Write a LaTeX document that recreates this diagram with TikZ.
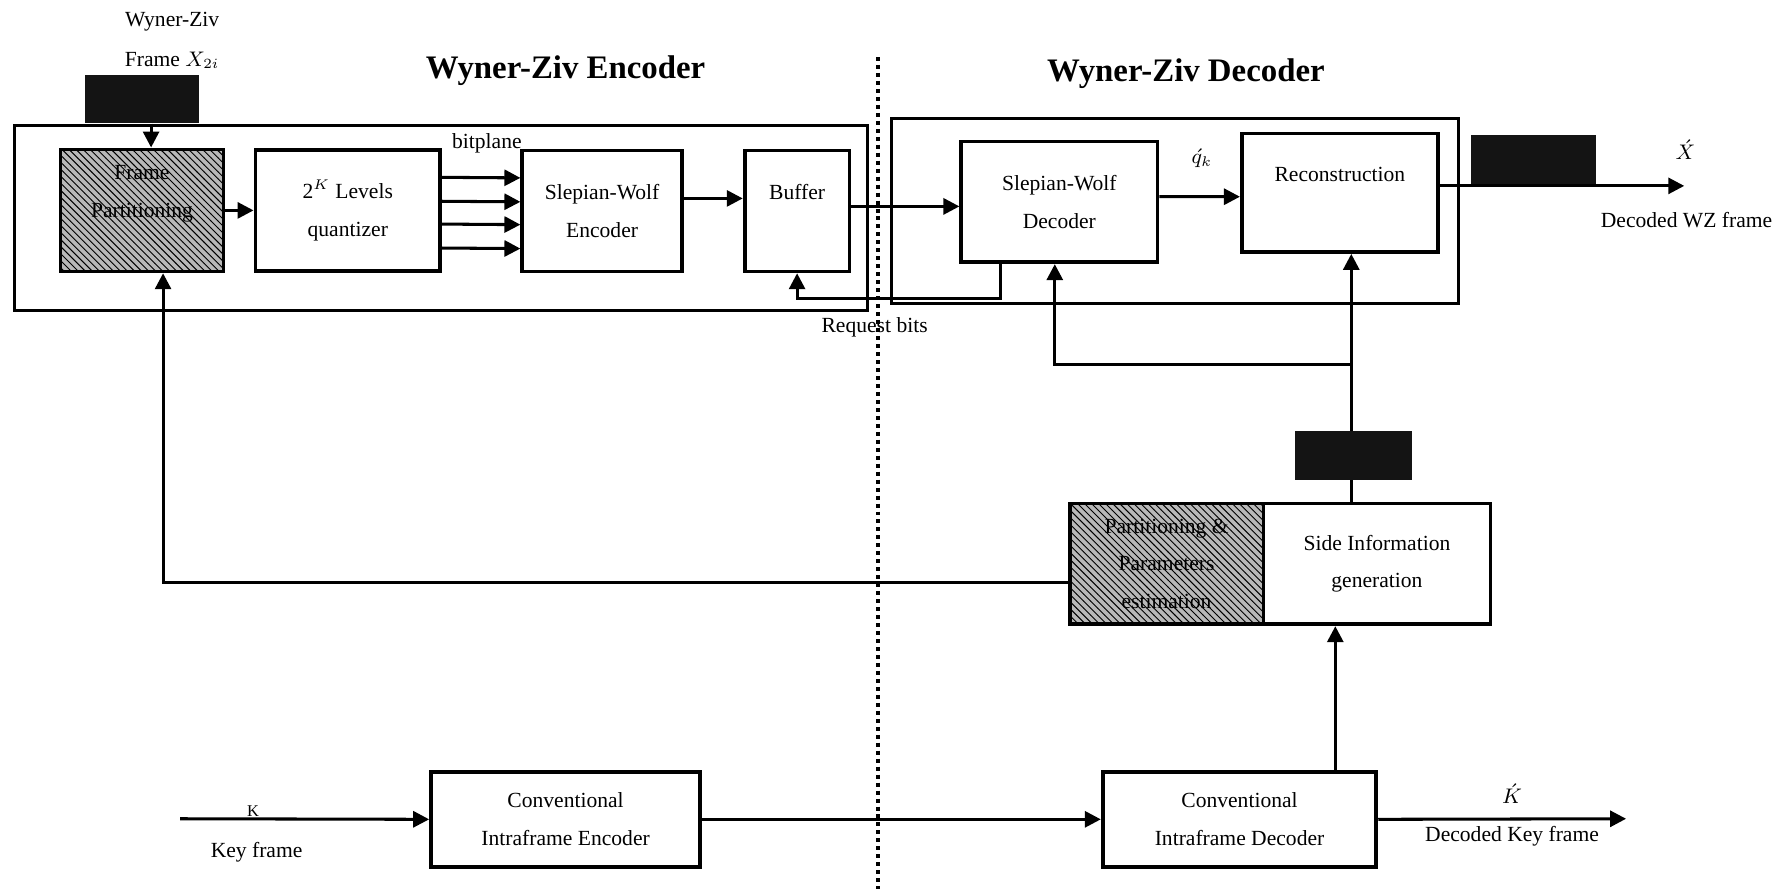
\documentclass[tikz,border=0pt]{standalone}
\usepackage{fontspec}
\setmainfont{Liberation Serif}
\usetikzlibrary{arrows.meta,patterns}
\definecolor{Ink}{HTML}{000000}
\definecolor{HatchGrey}{HTML}{B8B8B8}
\definecolor{Blot}{HTML}{141414}
\newcommand{\pxu}{0.01709cm}
\tikzset{block/.style={rectangle,draw=Ink,line width=1.6pt,fill=white,align=center,text=Ink,inner sep=2pt},hatchblock/.style={rectangle,draw=Ink,line width=1.6pt,align=center,text=Ink,inner sep=2pt,preaction={fill=HatchGrey},pattern=north west lines,pattern color=Ink},blot/.style={rectangle,fill=Blot,inner sep=0pt},frame/.style={draw=Ink,line width=1.4pt},flow/.style={draw=Ink,line width=1.3pt,-{Triangle[length=6.8pt,width=6.8pt]}},note/.style={text=Ink,inner sep=1pt},heading/.style={text=Ink,font=\bfseries\fontsize{14}{16}\selectfont}}

\begin{document}
\begin{tikzpicture}[x=\pxu,y=-\pxu,font=\fontsize{9.2}{16}\selectfont]
\useasboundingbox (0,0) rectangle (1568,780);
% encoder and decoder frames, split line
\draw[frame] (13,110) rectangle (761,272);\draw[frame] (782,104) rectangle (1279,266);
\draw[Ink,line width=1.7pt,dash pattern=on 1.7pt off 1.7pt] (770,50) -- (770,780);
\node[heading] (enctitle) at (496,62) {Wyner-Ziv Encoder};\node[heading] (dectitle) at (1040,65) {Wyner-Ziv Decoder};
% input frame
\node[note] (wzname) at (151,19) {Wyner-Ziv};\node[note] (wzframe) at (151,53) {Frame $X_{2i}$};
\node[blot,minimum width=100*\pxu,minimum height=42*\pxu] (wzin) at (124.5,87) {};
% blocks
\node[hatchblock,minimum width=143*\pxu,minimum height=107*\pxu] (fp) at (124.5,184.5) {Frame\\Partitioning\\\mbox{}};
\node[block,minimum width=162*\pxu,minimum height=106*\pxu] (quant) at (305,184.5) {2$^{K}$ Levels\\quantizer};
\node[block,minimum width=140*\pxu,minimum height=106*\pxu] (swenc) at (528,185) {Slepian-Wolf\\Encoder};
\node[block,minimum width=92*\pxu,minimum height=106*\pxu] (buffer) at (699,185) {Buffer\\\mbox{}};
\node[block,minimum width=172*\pxu,minimum height=106*\pxu] (swdec) at (929,177) {Slepian-Wolf\\Decoder};
\node[block,minimum width=172*\pxu,minimum height=104*\pxu] (recon) at (1175,169) {Reconstruction\\\mbox{}};
\node[hatchblock,minimum width=170*\pxu,minimum height=106*\pxu] (pe) at (1023,494.5) {Partitioning \&\\Parameters\\estimation};
\node[block,minimum width=199*\pxu,minimum height=106*\pxu] (sig) at (1207.5,494.5) {Side Information\\generation};
\node[block,minimum width=236*\pxu,minimum height=83*\pxu] (ienc) at (496,718.5) {Conventional\\Intraframe Encoder};
\node[block,minimum width=240*\pxu,minimum height=83*\pxu] (idec) at (1087,718.5) {Conventional\\Intraframe Decoder};
\coordinate (fork) at (1185,320);\coordinate (keyin) at (158,718);\coordinate (keyout) at (1426,718);\coordinate (wzout) at (1477,163);
% encoder flow
\draw[flow] ([xshift=8*\pxu]wzin.south) -- ([xshift=8*\pxu]fp.north);
\draw[flow] (fp.east) -- (quant.west);
\foreach \dy in {29,8,-12,-33}{\draw[flow] ([yshift=\dy*\pxu]quant.east) -- ([yshift=\dy*\pxu]swenc.west);}
\node[note] (bitlbl) at (427,126) {bitplane};
\draw[flow] ([yshift=11*\pxu]swenc.east) -- ([yshift=11*\pxu]buffer.west);
\draw[flow] ([yshift=4*\pxu]buffer.east) -- ([yshift=-4*\pxu]swdec.west);
\draw[flow] ([xshift=-52*\pxu]swdec.south) -- ++(0,30) -| (buffer.south);
\node[note] (reqlbl) at (767,287) {Request bits};
% decoder flow
\draw[flow] ([yshift=4.5*\pxu]swdec.east) -- ([yshift=-3.5*\pxu]recon.west);
\node[note] (qlbl) at (1054,139) {$\acute{q}_k$};
\draw[flow] ([yshift=6*\pxu]recon.east) -- (wzout);
\node[blot,minimum width=110*\pxu,minimum height=43*\pxu] (wzblot) at (1345,140) {};
\node[note] (xlbl) at (1478,131) {$\acute{X}$};\node[note] (wzlbl) at (1479,193) {Decoded WZ frame};
\draw[flow] (sig.north -| fork) -- (recon.south -| fork);
\node[blot,minimum width=102*\pxu,minimum height=43*\pxu] (siblot) at (1187,399.5) {};
\draw[flow] (fork) -| ([xshift=-4*\pxu]swdec.south);
\draw[flow] ([yshift=-16.5*\pxu]pe.west) -| ([xshift=18.5*\pxu]fp.south);
% key frames
\draw[flow] ([xshift=84*\pxu]idec.north) -- ([xshift=84*\pxu]idec.north |- sig.south);
\draw[flow] (keyin) -- (ienc.west);
\node[note,font=\fontsize{7}{8}\selectfont] (klbl) at (222,711) {K};\node[note] (keylbl) at (225,747) {Key frame};
\draw[flow] (ienc.east) -- (idec.west);
\draw[flow] (idec.east) -- (keyout);
\node[note] (kplbl) at (1326,696) {$\acute{K}$};\node[note] (deckey) at (1326,733) {Decoded Key frame};
\end{tikzpicture}
\end{document}
